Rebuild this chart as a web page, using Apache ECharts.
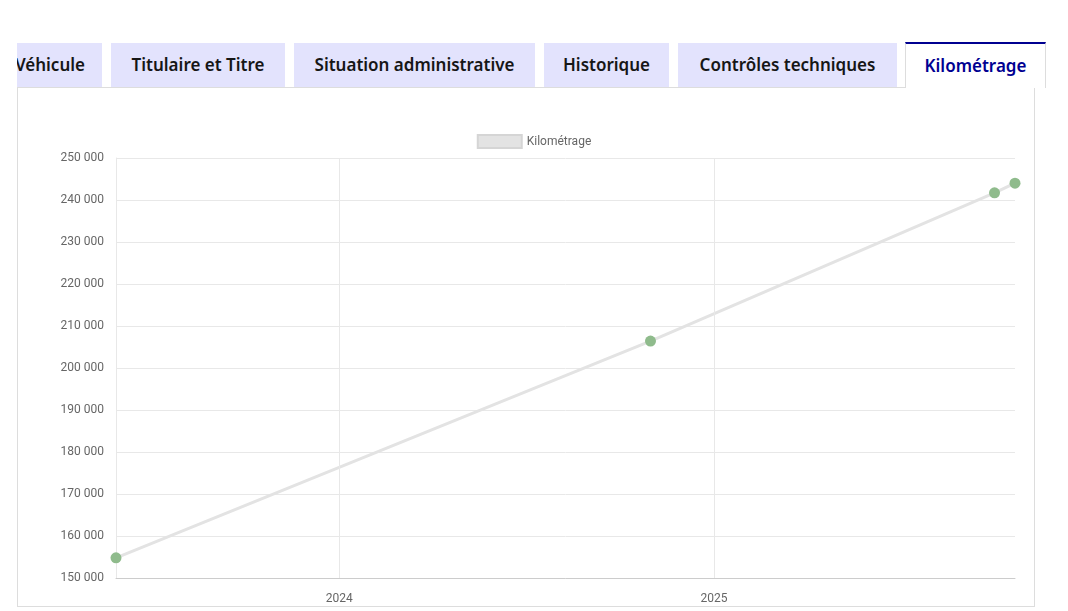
<!DOCTYPE html>
<html><head><meta charset="utf-8">
<script src="https://cdn.jsdelivr.net/npm/echarts@6/dist/echarts.min.js"></script>
<style>
body{margin:0;background:#fff;width:1068px;height:611px;overflow:hidden;position:relative;font-family:"Noto Sans",sans-serif}
.tab{position:absolute;top:43px;height:44px;background:#e3e3fd;color:#161616;font-weight:600;font-size:17px;line-height:44px;text-align:center;white-space:nowrap;overflow:hidden}
.act{background:#fff;color:#000091;border-top:2px solid #000091;border-left:1px solid #ddd;border-right:1px solid #ddd;height:44px;top:42px;z-index:2}
#box{position:absolute;left:17px;top:87px;width:1016px;height:518px;border:1px solid #ddd}
#c{position:absolute;left:0;top:0;width:1068px;height:611px}
</style></head><body>
<div class="tab" style="left:17px;width:85px"><span style="position:absolute;right:17px">Véhicule</span></div>
<div class="tab" style="left:111px;width:174px">Titulaire et Titre</div>
<div class="tab" style="left:294px;width:241px">Situation administrative</div>
<div class="tab" style="left:544px;width:125px">Historique</div>
<div class="tab" style="left:678px;width:219px">Contrôles techniques</div>
<div class="tab act" style="left:905px;width:139px">Kilométrage</div>
<div id="box"></div>
<div id="c"></div>
<script>
const dates = ['2023-05-28','2024-10-31','2025-10-02','2025-10-22'];
const kms = [154800, 206400, 241700, 244000];
const yearTicks = ['2024-01-01','2025-01-01'];
const ts = d => new Date(d+'T00:00:00Z').getTime();
const chart = echarts.init(document.getElementById('c'));
const fmt = v => String(v).replace(/\B(?=(\d{3})+(?!\d))/g,' ');
chart.setOption({
  animation:false,
  legend:{top:129,left:'center',itemWidth:44,itemHeight:13,icon:'rect',
    textStyle:{color:'#666',fontSize:12,fontFamily:'Roboto'},
    data:[{name:'Kilométrage',itemStyle:{color:'#e3e3e3',borderColor:'#d5d5d5',borderWidth:2}}]},
  grid:{left:116,right:53,top:158,bottom:33},
  xAxis:{type:'value',min:ts(dates[0]),max:ts(dates[dates.length-1]),
    axisLine:{lineStyle:{color:'#ccc'}},axisTick:{show:false},splitLine:{show:false},
    axisLabel:{customValues:yearTicks.map(ts),formatter:v=>new Date(v).getUTCFullYear(),color:'#666',fontSize:12,fontFamily:'Roboto',margin:15}},
  yAxis:{type:'value',min:150000,max:250000,interval:10000,
    axisLine:{show:true,lineStyle:{color:'#e8e8e8'}},axisTick:{show:false},
    splitLine:{lineStyle:{color:'#e8e8e8'}},
    axisLabel:{formatter:fmt,color:'#666',fontSize:12,fontFamily:'Roboto',margin:12}},
  series:[{name:'Kilométrage',type:'line',data:dates.map((d,i)=>[ts(d),kms[i]]),
    symbol:'circle',symbolSize:11,showSymbol:true,
    lineStyle:{color:'#e3e3e3',width:3},itemStyle:{color:'#8fbb8c'},
    markLine:{silent:true,symbol:'none',label:{show:false},lineStyle:{color:'#e8e8e8',type:'solid',width:1},
      data:yearTicks.map(d=>({xAxis:ts(d)}))}}]
});
</script></body></html>
